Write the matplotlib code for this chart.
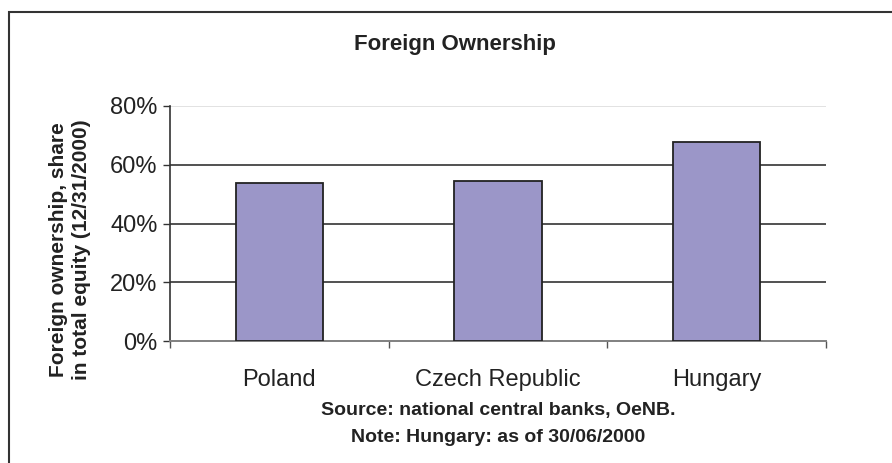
import matplotlib.pyplot as plt
import matplotlib.patches as patches
import numpy as np

plt.rcParams["font.family"] = ["Liberation Sans", "DejaVu Sans"]

# data
countries = ["Poland", "Czech Republic", "Hungary"]
foreign_share = [53.7, 54.4, 67.7]
yticks = [0, 20, 40, 60, 80]
ytick_labels = ["0%", "20%", "40%", "60%", "80%"]

W, H = 892, 463
fig = plt.figure(figsize=(W/100, H/100), dpi=100)
ax = fig.add_axes([170/W, 1-341/H, 656/W, 235/H])

x = np.arange(len(countries))

# gridlines, top one is light
for v in yticks[1:]:
    ax.axhline(v, color="#dddddd" if v == 80 else "#333333", lw=1.2, zorder=1)

ax.bar(x, foreign_share, width=0.4, color="#9b96c8", edgecolor="#222222",
       linewidth=1.3, zorder=3)

ax.set_xlim(-0.5, 2.5)
ax.set_ylim(0, 80)
ax.set_yticks(yticks)
ax.set_yticklabels(ytick_labels, fontsize=17, color="#222222")
ax.set_xticks([-0.5, 0.5, 1.5, 2.5])
ax.set_xticklabels([])
ax.tick_params(axis="y", direction="out", length=5, width=1, color="#333333", pad=4)
ax.tick_params(axis="x", direction="out", length=5, width=1, color="#555555")

# category names
for i, c in enumerate(countries):
    fig.text(ax.transData.transform((i, 0))[0]/W, 1-386/H, c, ha="center",
             va="baseline", fontsize=17, color="#222222")

ax.spines["top"].set_visible(False)
ax.spines["right"].set_visible(False)
ax.spines["left"].set_color("#333333")
ax.spines["bottom"].set_color("#808080")
ax.spines["left"].set_linewidth(1.2)
ax.spines["bottom"].set_linewidth(1.4)

fig.text(455/W, 1-50/H, "Foreign Ownership", ha="center", va="baseline",
         fontsize=16, fontweight="bold", color="#222222")
fig.text(70/W, 1-250/H, "Foreign ownership, share\nin total equity (12/31/2000)",
         ha="center", va="center", rotation=90, fontsize=15, fontweight="bold",
         linespacing=1.3, color="#222222")
fig.text(498/W, 1-415/H, "Source: national central banks, OeNB.",
         ha="center", va="baseline", fontsize=14, fontweight="bold", color="#222222")
fig.text(498/W, 1-442/H, "Note: Hungary: as of 30/06/2000",
         ha="center", va="baseline", fontsize=14, fontweight="bold", color="#222222")

# frame around the chart (right and bottom sides fall outside the picture)
fig.patches.append(patches.Rectangle((9/W, -0.1), 1.2, 1-12/H+0.1,
                                     transform=fig.transFigure, fill=False,
                                     edgecolor="#333333", lw=1.5))

fig.savefig("out.png", dpi=100)
